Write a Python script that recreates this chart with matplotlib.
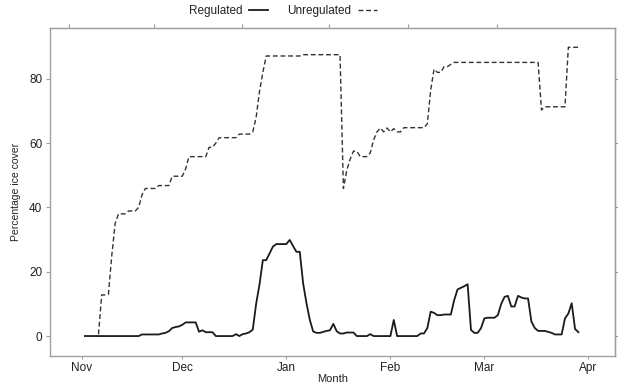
import numpy as np
import matplotlib.pyplot as plt

# days counted from 1 November
month_pos = [0, 30, 61, 92, 120, 151]
month_lab = ['Nov', 'Dec', 'Jan', 'Feb', 'Mar', 'Apr']
top_ticks = [-3.8, 21.5, 47.8, 73.7, 97.2, 123.7]

unregulated = [0, 0, 0, 0, 0, 12.8, 12.8, 13.0, 25, 35,
               38, 38, 38, 38.9, 38.9, 38.9, 40, 43.9, 45.9, 45.9,
               45.9, 45.9, 46.8, 46.8, 46.8, 46.8, 49.7, 49.7, 49.7, 49.7,
               52, 55.8, 55.8, 55.8, 55.8, 55.8, 55.8, 58.7, 58.7, 60,
               61.7, 61.7, 61.7, 61.7, 61.7, 61.7, 62.8, 62.8, 62.8, 62.8,
               63.5, 68, 76, 82, 87.1, 87.1, 87.1, 87.1, 87.1, 87.1,
               87.1, 87.1, 87.1, 87.1, 87.1, 87.5, 87.5, 87.5, 87.5, 87.5,
               87.5, 87.5, 87.5, 87.5, 87.5, 87.5, 87.5, 45.9, 51.6, 55,
               57.5, 57.5, 55.8, 55.8, 55.8, 57, 61, 63.5, 64.7, 63.5,
               64.7, 63.5, 64.5, 63.5, 63.5, 64.8, 64.8, 64.8, 64.8, 64.8,
               64.8, 64.8, 66, 76.5, 83, 82, 82, 83.8, 83.8, 84.5,
               85.1, 85.1, 85.1, 85.1, 85.1, 85.1, 85.1, 85.1, 85.1, 85.1,
               85.1, 85.1, 85.1, 85.1, 85.1, 85.1, 85.1, 85.1, 85.1, 85.1,
               85.1, 85.1, 85.1, 85.1, 85.1, 85.1, 70.3, 71.3, 71.3, 71.3,
               71.3, 71.3, 71.3, 71.3, 89.8, 89.8, 89.8, 89.8]

regulated = [0, 0, 0, 0, 0, 0, 0, 0, 0, 0,
             0, 0, 0, 0, 0, 0, 0, 0.5, 0.5, 0.5,
             0.5, 0.5, 0.5, 0.8, 1.0, 1.5, 2.5, 2.8, 3.0, 3.5,
             4.25, 4.25, 4.25, 4.25, 1.35, 1.8, 1.2, 1.2, 1.2, 0,
             0, 0, 0, 0, 0, 0.6, 0, 0.6, 0.8, 1.2,
             2.0, 10, 16, 23.6, 23.6, 25.7, 27.8, 28.6, 28.6, 28.6,
             28.6, 29.9, 28, 26.2, 26.2, 16.4, 10.2, 5, 1.4, 1.0,
             1.0, 1.3, 1.6, 1.8, 3.8, 1.5, 0.8, 0.8, 1.1, 1.1,
             1.1, 0, 0, 0, 0, 0.6, 0, 0, 0, 0,
             0, 0, 5, 0, 0, 0, 0, 0, 0, 0,
             0.8, 0.8, 2.5, 7.6, 7.2, 6.5, 6.5, 6.7, 6.7, 6.7,
             11.2, 14.5, 15, 15.5, 16.1, 1.9, 1.0, 1.0, 2.5, 5.5,
             5.7, 5.7, 5.7, 6.5, 10, 12.2, 12.5, 9.2, 9.2, 12.5,
             12, 11.7, 11.7, 4.5, 2.5, 1.6, 1.6, 1.6, 1.3, 1.0,
             0.5, 0.5, 0.5, 5.5, 7, 10.2, 2.2, 1.2]

days_u = np.arange(1, len(unregulated) + 1)
days_r = np.arange(1, len(regulated) + 1)

plt.rcParams.update({
    'font.family': 'Liberation Sans',
    'font.size': 8.5
})

fig = plt.figure(figsize=(6.18, 3.87), dpi=100)
ax = fig.add_axes([50/618, 1 - 356/387, 565/618, 328/387])

ax.plot(days_r, regulated, color='#1a1a1a', lw=1.3, label='Regulated')
ax.plot(days_u, unregulated, color='#333333', lw=1.0, ls=(0, (3.5, 2)), label='Unregulated')

ax.set_xlim(-9.4, 158.9)
ax.set_ylim(-6.2, 95.8)
ax.set_xticks(month_pos, labels=month_lab)
ax.set_yticks([0, 20, 40, 60, 80])

for s in ax.spines.values():
    s.set_color('#a0a0a0')
    s.set_linewidth(1.0)
ax.tick_params(colors='#a0a0a0', labelcolor='#222222', length=3, width=0.8)
ax.tick_params(axis='x', pad=1.5, length=2.5)
ax.tick_params(axis='y', pad=2.5)

# unlabeled ticks on top and right
top = ax.secondary_xaxis('top')
top.set_xticks(top_ticks)
top.tick_params(colors='#a0a0a0', labeltop=False, length=3, width=0.8)
top.spines['top'].set_color('#a0a0a0')

sec = ax.secondary_yaxis('right')
sec.set_yticks([0, 20, 40, 60, 80])
sec.tick_params(colors='#a0a0a0', labelright=False, length=3, width=0.8)

ax.set_xlabel('Month', fontsize=8, color='#222222', labelpad=0.5)
ax.set_ylabel('Percentage ice cover', fontsize=7.5, color='#222222', labelpad=6)

fig.legend(loc='center', bbox_to_anchor=(283/618, 1 - 11/387), ncol=2, frameon=False,
           markerfirst=False, handlelength=1.6, columnspacing=1.6, handletextpad=0.6,
           fontsize=8.5, labelcolor='#222222')

plt.savefig('out.png', dpi=100)
